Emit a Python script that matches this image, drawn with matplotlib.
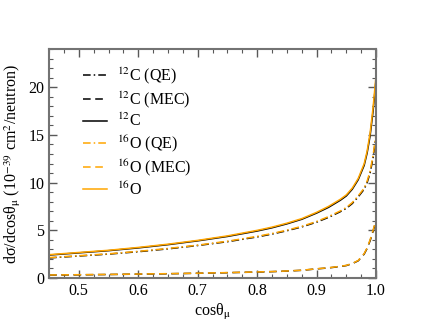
import numpy as np
import matplotlib
matplotlib.use('Agg')
import matplotlib.pyplot as plt
from matplotlib.ticker import MultipleLocator

plt.rcParams['font.family'] = ['Liberation Serif', 'DejaVu Serif']
plt.rcParams['mathtext.fontset'] = 'stix'

# cos(theta_mu) grid
cos_mu = [0.45, 0.5, 0.55, 0.6, 0.65, 0.7, 0.75, 0.8, 0.825, 0.85, 0.875, 0.9,
          0.92, 0.94, 0.95, 0.96, 0.97, 0.98, 0.985, 0.99, 0.995, 1.0]

# 12C
c_qe = [2.1, 2.3, 2.5, 2.75, 3.05, 3.4, 3.8, 4.3, 4.6, 4.95, 5.35, 5.85,
        6.35, 6.95, 7.3, 7.8, 8.5, 9.3, 10.0, 11.0, 12.6, 14.8]
c_mec = [0.3, 0.33, 0.36, 0.4, 0.44, 0.49, 0.55, 0.62, 0.66, 0.72, 0.8, 0.95,
         1.05, 1.2, 1.3, 1.5, 1.8, 2.5, 3.1, 3.9, 4.9, 6.0]
c_tot = [2.4, 2.63, 2.86, 3.15, 3.49, 3.89, 4.35, 4.92, 5.26, 5.67, 6.15, 6.8,
         7.4, 8.15, 8.6, 9.3, 10.3, 11.8, 13.1, 14.9, 17.5, 20.8]

# 16O
o_qe = [2.13, 2.33, 2.53, 2.79, 3.09, 3.44, 3.85, 4.36, 4.66, 5.01, 5.41, 5.92,
        6.43, 7.03, 7.39, 7.9, 8.6, 9.42, 10.15, 11.2, 12.85, 15.1]
o_mec = [0.31, 0.34, 0.37, 0.41, 0.45, 0.5, 0.56, 0.63, 0.67, 0.73, 0.81, 0.96,
         1.07, 1.22, 1.32, 1.52, 1.83, 2.55, 3.15, 4.0, 5.0, 6.15]
o_tot = [2.44, 2.67, 2.9, 3.2, 3.54, 3.94, 4.41, 4.99, 5.33, 5.74, 6.22, 6.88,
         7.5, 8.25, 8.71, 9.42, 10.43, 11.97, 13.3, 15.2, 17.85, 21.25]

orange = '#FFA500'

fig = plt.figure(figsize=(4.23, 3.27), dpi=100)
ax = fig.add_axes([0.116, 0.150, 0.773, 0.700])

ax.plot(cos_mu, c_qe, color='k', ls=(0, (5, 2, 1, 2)), lw=1.1, label=r'$^{12}$C (QE)')
ax.plot(cos_mu, c_mec, color='k', ls=(0, (5, 3)), lw=1.1, label=r'$^{12}$C (MEC)')
ax.plot(cos_mu, c_tot, color='k', ls='-', lw=1.1, label=r'$^{12}$C')
ax.plot(cos_mu, o_qe, color=orange, ls=(0, (5, 2, 1, 2)), lw=1.1, label=r'$^{16}$O (QE)')
ax.plot(cos_mu, o_mec, color=orange, ls=(0, (5, 3)), lw=1.1, label=r'$^{16}$O (MEC)')
ax.plot(cos_mu, o_tot, color=orange, ls='-', lw=1.1, label=r'$^{16}$O')

ax.set_xlim(0.45, 1.0)
ax.set_ylim(0, 24)
ax.xaxis.set_major_locator(MultipleLocator(0.1))
ax.xaxis.set_minor_locator(MultipleLocator(0.025))
ax.yaxis.set_major_locator(MultipleLocator(5))
ax.yaxis.set_minor_locator(MultipleLocator(1))
ax.tick_params(which='both', direction='in', top=True, right=True,
               color='0.35', labelsize=11.5)
ax.tick_params(which='major', length=6, width=1)
ax.tick_params(which='minor', length=3, width=0.8)
for s in ax.spines.values():
    s.set_color('0.45')
    s.set_linewidth(1.5)

ax.set_xlabel(r'cosθ$_\mathrm{μ}$', fontsize=11.5, labelpad=2)
ax.set_ylabel(r'dσ/dcosθ$_\mathrm{μ}$ (10$^{-39}$ cm$^2$/neutron)',
              fontsize=11.5, labelpad=4)

ax.legend(loc='upper left', bbox_to_anchor=(0.085, 0.955), frameon=False,
          fontsize=11.5, handlelength=1.5, handletextpad=0.6,
          labelspacing=0.2, borderaxespad=0)

fig.savefig('out.png', dpi=100)
